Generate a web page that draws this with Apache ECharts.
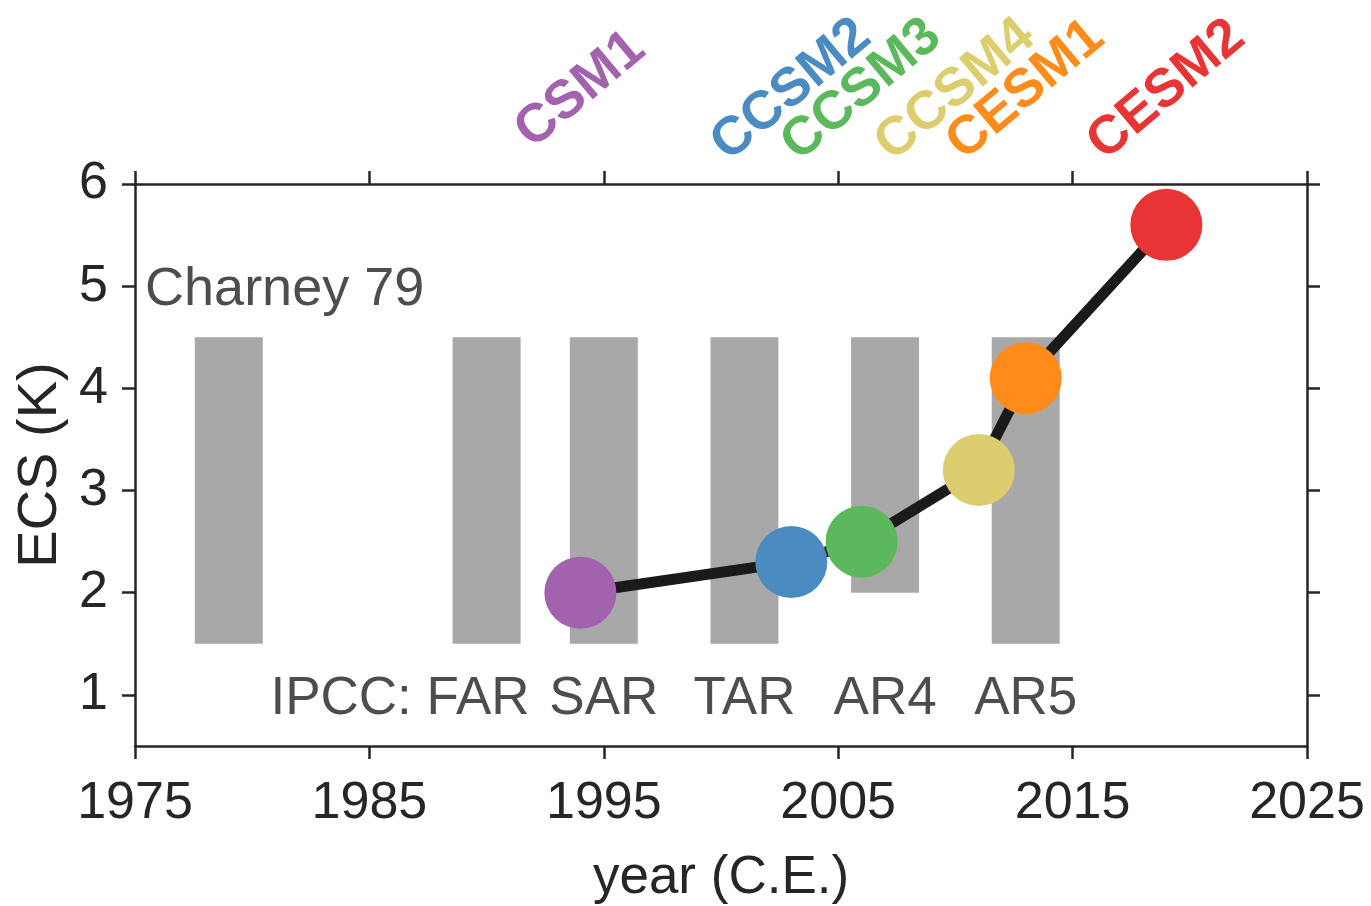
<!DOCTYPE html>
<html>
<head>
<meta charset="utf-8">
<script src="https://cdn.jsdelivr.net/npm/echarts@6/dist/echarts.min.js"></script>
<style>html,body{margin:0;padding:0;background:#fff;}#c{width:1371px;height:906px;}</style>
</head>
<body>
<div id="c"></div>
<script>
// ---- data ----
const modelNames = ['CSM1', 'CCSM2', 'CCSM3', 'CCSM4', 'CESM1', 'CESM2'];
const modelYears = [1994, 2003, 2006, 2011, 2013, 2019];
const modelECS = [2.0, 2.3, 2.5, 3.2, 4.1, 5.6];
const labelYears = [1994, 2003, 2006, 2010, 2013, 2019];
const modelColors = ['#a262ad', '#4a8bc2', '#5cb85c', '#dccd6e', '#ff8c1a', '#e83434'];

const ipccNames = ['Charney 79', 'FAR', 'SAR', 'TAR', 'AR4', 'AR5'];
const ipccYears = [1979, 1990, 1995, 2001, 2007, 2013];
const ipccLow = [1.5, 1.5, 1.5, 1.5, 2.0, 1.5];
const ipccHigh = [4.5, 4.5, 4.5, 4.5, 4.5, 4.5];

const xTicks = [1975, 1985, 1995, 2005, 2015, 2025];
const yTicks = [1, 2, 3, 4, 5, 6];

// ---- layout / style constants ----
const FONT = "'Liberation Sans', Arial, Helvetica, sans-serif";
const AXIS_COLOR = '#262626';
const TEXT_GRAY = '#4d4d4d';
const BAR_HALF = 1.45;
const LABEL_Y = 6.92;
const IPCC_TEXT_Y = 1;
const CHARNEY_POS = [1975.43, 5];
const TEXT_DY = 4;

const chart = echarts.init(document.getElementById('c'), null, {renderer: 'canvas'});

const axisLineStyle = {show: true, lineStyle: {color: AXIS_COLOR, width: 2.5}};
const tickStyle = (vals) => ({show: true, inside: false, length: 13, customValues: vals, lineStyle: {color: AXIS_COLOR, width: 2.5}});

const option = {
  animation: false,
  backgroundColor: '#fff',
  grid: {left: 135, right: 64, top: 184, bottom: 160, containLabel: false, outerBoundsMode: 'none'},
  xAxis: [
    {
      type: 'value', min: 1975, max: 2025, position: 'bottom',
      axisLine: axisLineStyle, axisTick: tickStyle(xTicks), splitLine: {show: false},
      axisLabel: {customValues: xTicks, fontSize: 52, color: AXIS_COLOR, fontFamily: FONT, margin: 32,
        formatter: (v) => String(v)},
      name: 'year (C.E.)', nameLocation: 'middle', nameGap: 106,
      nameTextStyle: {fontSize: 53, color: AXIS_COLOR, fontFamily: FONT}
    },
    {
      type: 'value', min: 1975, max: 2025, position: 'top',
      axisLine: axisLineStyle, axisTick: tickStyle(xTicks), splitLine: {show: false},
      axisLabel: {show: false, customValues: xTicks}
    }
  ],
  yAxis: [
    {
      type: 'value', min: 0.5, max: 6, position: 'left',
      axisLine: axisLineStyle, axisTick: tickStyle(yTicks), splitLine: {show: false},
      axisLabel: {customValues: yTicks, fontSize: 52, color: AXIS_COLOR, fontFamily: FONT, margin: 27,
        formatter: (v) => String(v)},
      name: 'ECS (K)', nameLocation: 'middle', nameGap: 62, nameRotate: 90,
      nameTextStyle: {fontSize: 56, color: AXIS_COLOR, fontFamily: FONT}
    },
    {
      type: 'value', min: 0.5, max: 6, position: 'right',
      axisLine: axisLineStyle, axisTick: tickStyle(yTicks), splitLine: {show: false},
      axisLabel: {show: false, customValues: yTicks}
    }
  ],
  series: [
    {
      type: 'custom',
      z: 1,
      data: ipccYears.map((x, i) => [x, ipccLow[i], ipccHigh[i]]),
      renderItem: function (params, api) {
        const i = params.dataIndex;
        const x = api.value(0), lo = api.value(1), hi = api.value(2);
        const p0 = api.coord([x - BAR_HALF, hi]);
        const p1 = api.coord([x + BAR_HALF, lo]);
        const children = [{
          type: 'rect',
          shape: {x: p0[0], y: p0[1], width: p1[0] - p0[0], height: p1[1] - p0[1]},
          style: {fill: '#a8a8a8'}
        }];
        const ts = {fontSize: 53, fontFamily: FONT, fill: TEXT_GRAY};
        if (i === 0) {
          const c = api.coord(CHARNEY_POS);
          children.push({type: 'text', x: c[0], y: c[1] + TEXT_DY, style: Object.assign({text: ipccNames[i], align: 'left', verticalAlign: 'middle'}, ts, {fontSize: 54})});
        } else if (i === 1) {
          const c = api.coord([x + BAR_HALF, IPCC_TEXT_Y]);
          children.push({type: 'text', x: c[0] + 9, y: c[1] + TEXT_DY, style: Object.assign({text: 'IPCC: ' + ipccNames[i], align: 'right', verticalAlign: 'middle'}, ts)});
        } else {
          const c = api.coord([x, IPCC_TEXT_Y]);
          children.push({type: 'text', x: c[0], y: c[1] + TEXT_DY, style: Object.assign({text: ipccNames[i], align: 'center', verticalAlign: 'middle'}, ts)});
        }
        return {type: 'group', children: children};
      }
    },
    {
      type: 'line',
      z: 2,
      data: modelYears.map((x, i) => ({value: [x, modelECS[i]], itemStyle: {color: modelColors[i]}})),
      symbol: 'circle',
      symbolSize: 72,
      lineStyle: {color: '#1a1a1a', width: 11},
      itemStyle: {borderWidth: 0, opacity: 1},
      clip: false
    },
    {
      type: 'scatter',
      z: 3,
      clip: false,
      symbolSize: 0,
      itemStyle: {opacity: 1},
      data: labelYears.map((x, i) => ({
        value: [x, LABEL_Y],
        label: {color: modelColors[i], formatter: modelNames[i]}
      })),
      label: {
        show: true, position: 'inside', rotate: 40,
        fontSize: 54, fontWeight: 'bold', fontFamily: FONT,
        align: 'center', verticalAlign: 'middle', opacity: 1
      }
    }
  ]
};
chart.setOption(option);
</script>
</body>
</html>
